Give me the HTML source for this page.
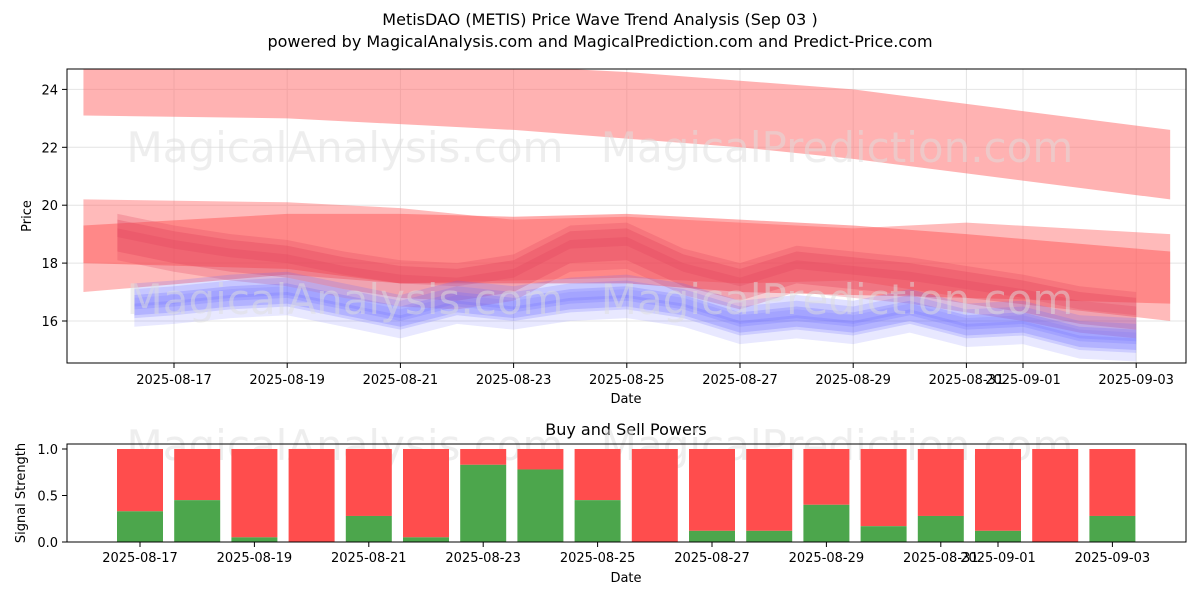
<!DOCTYPE html>
<html><head><meta charset="utf-8"><style>
body{margin:0;background:#fff;font-family:"Liberation Sans","DejaVu Sans",sans-serif}
svg text{font-family:"DejaVu Sans","Liberation Sans",sans-serif}
</style></head><body>
<svg id="c" width="1200" height="600" xmlns="http://www.w3.org/2000/svg">
<defs><clipPath id="clipTop"><rect x="67" y="69" width="1119" height="294"/></clipPath></defs>
<rect width="1200" height="600" fill="#fff"/>
<text x="600" y="25" text-anchor="middle" font-size="16">MetisDAO (METIS) Price Wave Trend Analysis (Sep 03 )</text>
<text x="600" y="47" text-anchor="middle" font-size="16">powered by MagicalAnalysis.com and MagicalPrediction.com and Predict-Price.com</text>
<g id="topg"></g><g id="botg"></g>
</svg>
<script>
// ---- data ----
const priceTicks=[16,18,20,22,24];
const dateLabels=["2025-08-17","2025-08-19","2025-08-21","2025-08-23","2025-08-25","2025-08-27","2025-08-29","2025-08-31","2025-09-01","2025-09-03"];
const dateOffsets=[0,2,4,6,8,10,12,14,15,17];
const bigDays=[-1.6,2,4,6,8,10,12,14,17.6];
const bigUpper=[24.8,24.8,24.8,24.8,24.6,24.3,24.0,23.5,22.6];
const bigLower=[23.1,23.0,22.8,22.6,22.3,22.0,21.6,21.1,20.2];
const lightUpper=[20.2,20.1,19.9,19.5,19.6,19.4,19.2,19.4,19.0];
const lightLower=[17.0,17.6,17.3,17.4,17.5,17.3,17.4,16.8,16.0];
const midUpper=[19.3,19.7,19.7,19.6,19.7,19.5,19.3,19.0,18.4];
const midLower=[18.0,17.8,17.3,17.3,17.3,17.0,16.9,16.8,16.6];
const dayIdx=[-1,0,1,2,3,4,5,6,7,8,9,10,11,12,13,14,15,16,17];
const redWave=[18.9,18.5,18.2,18.0,17.6,17.3,17.2,17.5,18.5,18.6,17.7,17.2,17.8,17.6,17.4,17.1,16.8,16.4,16.2];
const blueWave=[16.7,16.8,17.0,17.1,16.7,16.3,16.8,16.6,16.9,17.0,16.7,16.1,16.3,16.1,16.5,16.0,16.1,15.6,15.5];
const buyDays=[0,1,2,3,4,5,6,7,8,9,10,11,12,13,14,15,16,17];
const buyVals=[0.33,0.45,0.05,0,0.28,0.05,0.83,0.78,0.45,0,0.12,0.12,0.4,0.17,0.28,0.12,0,0.28];
const sigTicks=[0,0.5,1.0];
// ---- scales ----
const NS="http://www.w3.org/2000/svg";
const X=d=>174+d*56.6, Y=v=>321-(v-16)*28.95;
const XB=d=>140+d*57.2, YB=v=>542-v*93;
function mk(p,tag,a){const e=document.createElementNS(NS,tag);for(const k in a)e.setAttribute(k,a[k]);p.appendChild(e);return e;}
const gt=document.getElementById('topg'),gb=document.getElementById('botg');
priceTicks.forEach(v=>mk(gt,'line',{x1:67,x2:1186,y1:Y(v),y2:Y(v),stroke:'#e4e4e4'}));
dateOffsets.forEach(d=>mk(gt,'line',{x1:X(d),x2:X(d),y1:69,y2:363,stroke:'#e4e4e4'}));
const gc=mk(gt,'g',{'clip-path':'url(#clipTop)'});
function band(days,up,lo,fill,op,name){
 let pts=days.map((d,i)=>X(d)+','+Y(up[i]));
 pts=pts.concat(days.map((d,i)=>X(d)+','+Y(lo[i])).reverse());
 const e=mk(gc,'polygon',{points:pts.join(' '),fill:fill,'fill-opacity':op});
 
 
}
[[345,148,'MagicalAnalysis.com'],[837,148,'MagicalPrediction.com'],[345,300,'MagicalAnalysis.com'],[837,300,'MagicalPrediction.com']].forEach(w=>{const t=mk(gt,'text',{x:w[0],y:w[1]+14,'text-anchor':'middle','font-size':42,fill:'#ddd','fill-opacity':0.5});t.textContent=w[2];

});
band(bigDays,bigUpper,bigLower,'#ff6666',0.5,'top-red-band');
band(bigDays,lightUpper,lightLower,'#ff6666',0.45,'light-red-band');
band(bigDays,midUpper,midLower,'#ff5555',0.5,'mid-red-band');
const wd=dayIdx.map(d=>Math.max(-1.2,d));
[[0.6,-0.5,0.3],[0.3,-0.8,0.25],[0.8,0.0,0.25]].forEach((o,k)=>band(wd,redWave.map(v=>v+o[0]),redWave.map(v=>v+o[1]),'#e0405a',o[2],'red-wave-'+k));
const bd=dayIdx.map(d=>Math.max(-0.7,d));
[[0.6,-0.2,0.2],[0.2,-0.5,0.25],[0.1,-0.9,0.15],[0.4,-0.3,0.2],[-0.1,-0.6,0.2]].forEach((o,k)=>band(bd,blueWave.map(v=>v+o[0]),blueWave.map(v=>v+o[1]),'#6666ff',o[2],'blue-wave-'+k));
mk(gt,'rect',{x:67,y:69,width:1119,height:294,fill:'none',stroke:'#000','stroke-width':1});
priceTicks.forEach(v=>{mk(gt,'line',{x1:62,x2:67,y1:Y(v),y2:Y(v),stroke:'#000'});const t=mk(gt,'text',{x:58,y:Y(v)+5,'text-anchor':'end','font-size':13});t.textContent=v;

});
dateLabels.forEach((l,i)=>{mk(gt,'line',{x1:X(dateOffsets[i]),x2:X(dateOffsets[i]),y1:363,y2:368,stroke:'#000'});const t=mk(gt,'text',{x:X(dateOffsets[i]),y:384,'text-anchor':'middle','font-size':13});t.textContent=l;

});
let t=mk(gt,'text',{x:626,y:403,'text-anchor':'middle','font-size':13});t.textContent='Date';

t=mk(gt,'text',{x:31,y:216,'text-anchor':'middle','font-size':13,transform:'rotate(-90 31 216)'});t.textContent='Price';

t=mk(gb,'text',{x:626,y:435,'text-anchor':'middle','font-size':16});t.textContent='Buy and Sell Powers';

[[345,'MagicalAnalysis.com'],[837,'MagicalPrediction.com']].forEach(w=>{const e=mk(gb,'text',{x:w[0],y:460,'text-anchor':'middle','font-size':42,fill:'#ddd','fill-opacity':0.5});e.textContent=w[1];

});
buyDays.forEach((d,i)=>{
 const x=XB(d)-23;
 const s=mk(gb,'rect',{x:x,y:YB(1),width:46,height:YB(buyVals[i])-YB(1),fill:'#ff4d4d'});
 
 
 const b=mk(gb,'rect',{x:x,y:YB(buyVals[i]),width:46,height:YB(0)-YB(buyVals[i]),fill:'#4ca64c'});
 
 
});
mk(gb,'rect',{x:67,y:444,width:1119,height:98,fill:'none',stroke:'#000'});
sigTicks.forEach(v=>{mk(gb,'line',{x1:62,x2:67,y1:YB(v),y2:YB(v),stroke:'#000'});const e=mk(gb,'text',{x:58,y:YB(v)+5,'text-anchor':'end','font-size':13});e.textContent=v.toFixed(1);

});
dateLabels.forEach((l,i)=>{mk(gb,'line',{x1:XB(dateOffsets[i]),x2:XB(dateOffsets[i]),y1:542,y2:547,stroke:'#000'});const e=mk(gb,'text',{x:XB(dateOffsets[i]),y:562,'text-anchor':'middle','font-size':13});e.textContent=l;

});
t=mk(gb,'text',{x:626,y:582,'text-anchor':'middle','font-size':13});t.textContent='Date';

t=mk(gb,'text',{x:25,y:493,'text-anchor':'middle','font-size':13,transform:'rotate(-90 25 493)'});t.textContent='Signal Strength';

</script>
</body></html>
